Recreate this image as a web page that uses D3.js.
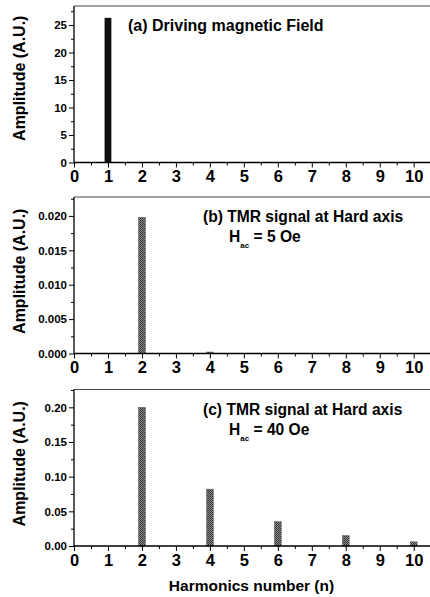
<!DOCTYPE html>
<html>
<head>
<meta charset="utf-8">
<script src="https://cdn.jsdelivr.net/npm/d3@7"></script>
<style>
  body { margin: 0; background: #fff; }
  svg { display: block; font-family: "Liberation Sans", Arial, sans-serif; }
  .tick text { font-weight: bold; }
</style>
</head>
<body>
<div id="chart"></div>
<script>
var width = 430, height = 597;

// harmonics on the x axis
var harmonics = [1, 2, 3, 4, 5, 6, 7, 8, 9, 10];
// (a) driving field spectrum
var drivingField = [26.3, 0, 0, 0, 0, 0, 0, 0, 0, 0];
// (b) TMR signal, Hac = 5 Oe
var tmrHac5 = [0, 0.0198, 0, 0.00015, 0, 0, 0, 0, 0, 0];
// (c) TMR signal, Hac = 40 Oe
var tmrHac40 = [0, 0.200, 0, 0.082, 0, 0.035, 0, 0.015, 0, 0.006];

var xTicks = [0, 1, 2, 3, 4, 5, 6, 7, 8, 9, 10];
var yTicksA = [0, 5, 10, 15, 20, 25];
var yTicksB = [0, 0.005, 0.010, 0.015, 0.020];
var yTicksC = [0, 0.05, 0.10, 0.15, 0.20];

var panelLabels = ['(a) Driving magnetic Field', '(b) TMR signal at Hard axis', '(c) TMR signal at Hard axis'];
var hacValues = [null, '5', '40'];

var left = 74, right = 429, panelH = 156.5;
var barW = 0.2;

var svg = d3.select('#chart').append('svg')
  .attr('width', width)
  .attr('height', height);

var defs = svg.append('defs');
var pat = defs.append('pattern')
  .attr('id', 'mesh')
  .attr('width', 2).attr('height', 2)
  .attr('patternUnits', 'userSpaceOnUse');
pat.append('rect').attr('width', 2).attr('height', 2).attr('fill', '#8c8c8c');
pat.append('rect').attr('width', 1).attr('height', 1).attr('fill', '#2e2e2e');
pat.append('rect').attr('x', 1).attr('y', 1).attr('width', 1).attr('height', 1).attr('fill', '#3c3c3c');

var x = d3.scaleLinear().domain([0, 10.45]).range([left, right]);

function drawPanel(top, yMax, values, yTicks, fmt, fill, idx) {
  var bottom = top + panelH;
  var y = d3.scaleLinear().domain([0, yMax]).range([bottom, top]);
  var g = svg.append('g');

  // top frame line
  g.append('line')
    .attr('x1', left).attr('x2', width)
    .attr('y1', top).attr('y2', top)
    .attr('stroke', '#444').attr('stroke-width', 1);

  // bars
  g.selectAll('rect.bar')
    .data(harmonics.map(function(n, i) { return {n: n, v: values[i]}; }).filter(function(d) { return d.v > 0; }))
    .enter().append('rect')
      .attr('class', 'bar')
      .attr('x', function(d) { return x(d.n - barW / 2); })
      .attr('width', function(d) { return x(barW) - x(0); })
      .attr('y', function(d) { return Math.min(y(d.v), bottom - 1.5); })
      .attr('height', function(d) { return bottom - Math.min(y(d.v), bottom - 1.5); })
      .attr('fill', fill)
      .attr('stroke', idx === 0 ? 'none' : '#555')
      .attr('stroke-width', 0.5);

  // x axis, minor then major
  var step = yTicks[1] - yTicks[0];
  var minorY = d3.range(step / 2, yMax, step);
  g.append('g')
    .attr('transform', 'translate(0,' + bottom + ')')
    .call(d3.axisBottom(x).tickValues(d3.range(0.5, 10.5, 1)).tickSize(3).tickFormat(''))
    .call(function(a) { a.select('.domain').remove(); });
  g.append('g')
    .attr('transform', 'translate(0,' + bottom + ')')
    .call(d3.axisBottom(x).tickValues(xTicks).tickSizeInner(5).tickSizeOuter(0).tickPadding(3).tickFormat(d3.format('d')))
    .call(function(a) {
      a.select('.domain').attr('d', 'M' + left + ',0H' + width).attr('stroke-width', 1.5);
      a.selectAll('text').attr('font-size', 16.5).attr('fill', '#000');
    });

  // y axis
  g.append('g')
    .attr('transform', 'translate(' + left + ',0)')
    .call(d3.axisLeft(y).tickValues(minorY).tickSize(3).tickFormat(''))
    .call(function(a) { a.select('.domain').remove(); });
  g.append('g')
    .attr('transform', 'translate(' + left + ',0)')
    .call(d3.axisLeft(y).tickValues(yTicks).tickSizeInner(5).tickSizeOuter(0).tickPadding(2).tickFormat(d3.format(fmt)))
    .call(function(a) {
      a.select('.domain').attr('d', 'M0,' + bottom + 'V' + top).attr('stroke-width', 1.3);
      a.selectAll('text').attr('font-size', 11.5).attr('fill', '#000');
    });

  // y title
  g.append('text')
    .attr('transform', 'translate(25,' + (top + panelH / 2 - (idx === 0 ? 6 : 4)) + ') rotate(-90)')
    .attr('text-anchor', 'middle')
    .attr('font-size', 16)
    .attr('font-weight', 'bold')
    .text('Amplitude (A.U.)');

  // panel label
  var lx = idx === 0 ? 128 : 203;
  g.append('text')
    .attr('x', lx).attr('y', top + 25)
    .attr('font-size', idx === 0 ? 16 : 15.6)
    .attr('font-weight', 'bold')
    .text(panelLabels[idx]);

  if (hacValues[idx]) {
    var t = g.append('text')
      .attr('x', 229).attr('y', top + 45)
      .attr('font-size', 15.6)
      .attr('font-weight', 'bold');
    t.append('tspan').text('H');
    t.append('tspan').attr('font-size', 8).attr('dy', 6).text('ac');
    t.append('tspan').attr('dy', -6).text(' = ' + hacValues[idx] + ' Oe');
  }
}

drawPanel(6, 28.45, drivingField, yTicksA, 'd', '#111', 0);
drawPanel(197, 0.02275, tmrHac5, yTicksB, '.3f', 'url(#mesh)', 1);
drawPanel(389.5, 0.2257, tmrHac40, yTicksC, '.2f', 'url(#mesh)', 2);

svg.append('text')
  .attr('x', (left + right) / 2).attr('y', 591)
  .attr('text-anchor', 'middle')
  .attr('font-size', 15.5)
  .attr('font-weight', 'bold')
  .text('Harmonics number (n)');
</script>
</body>
</html>
